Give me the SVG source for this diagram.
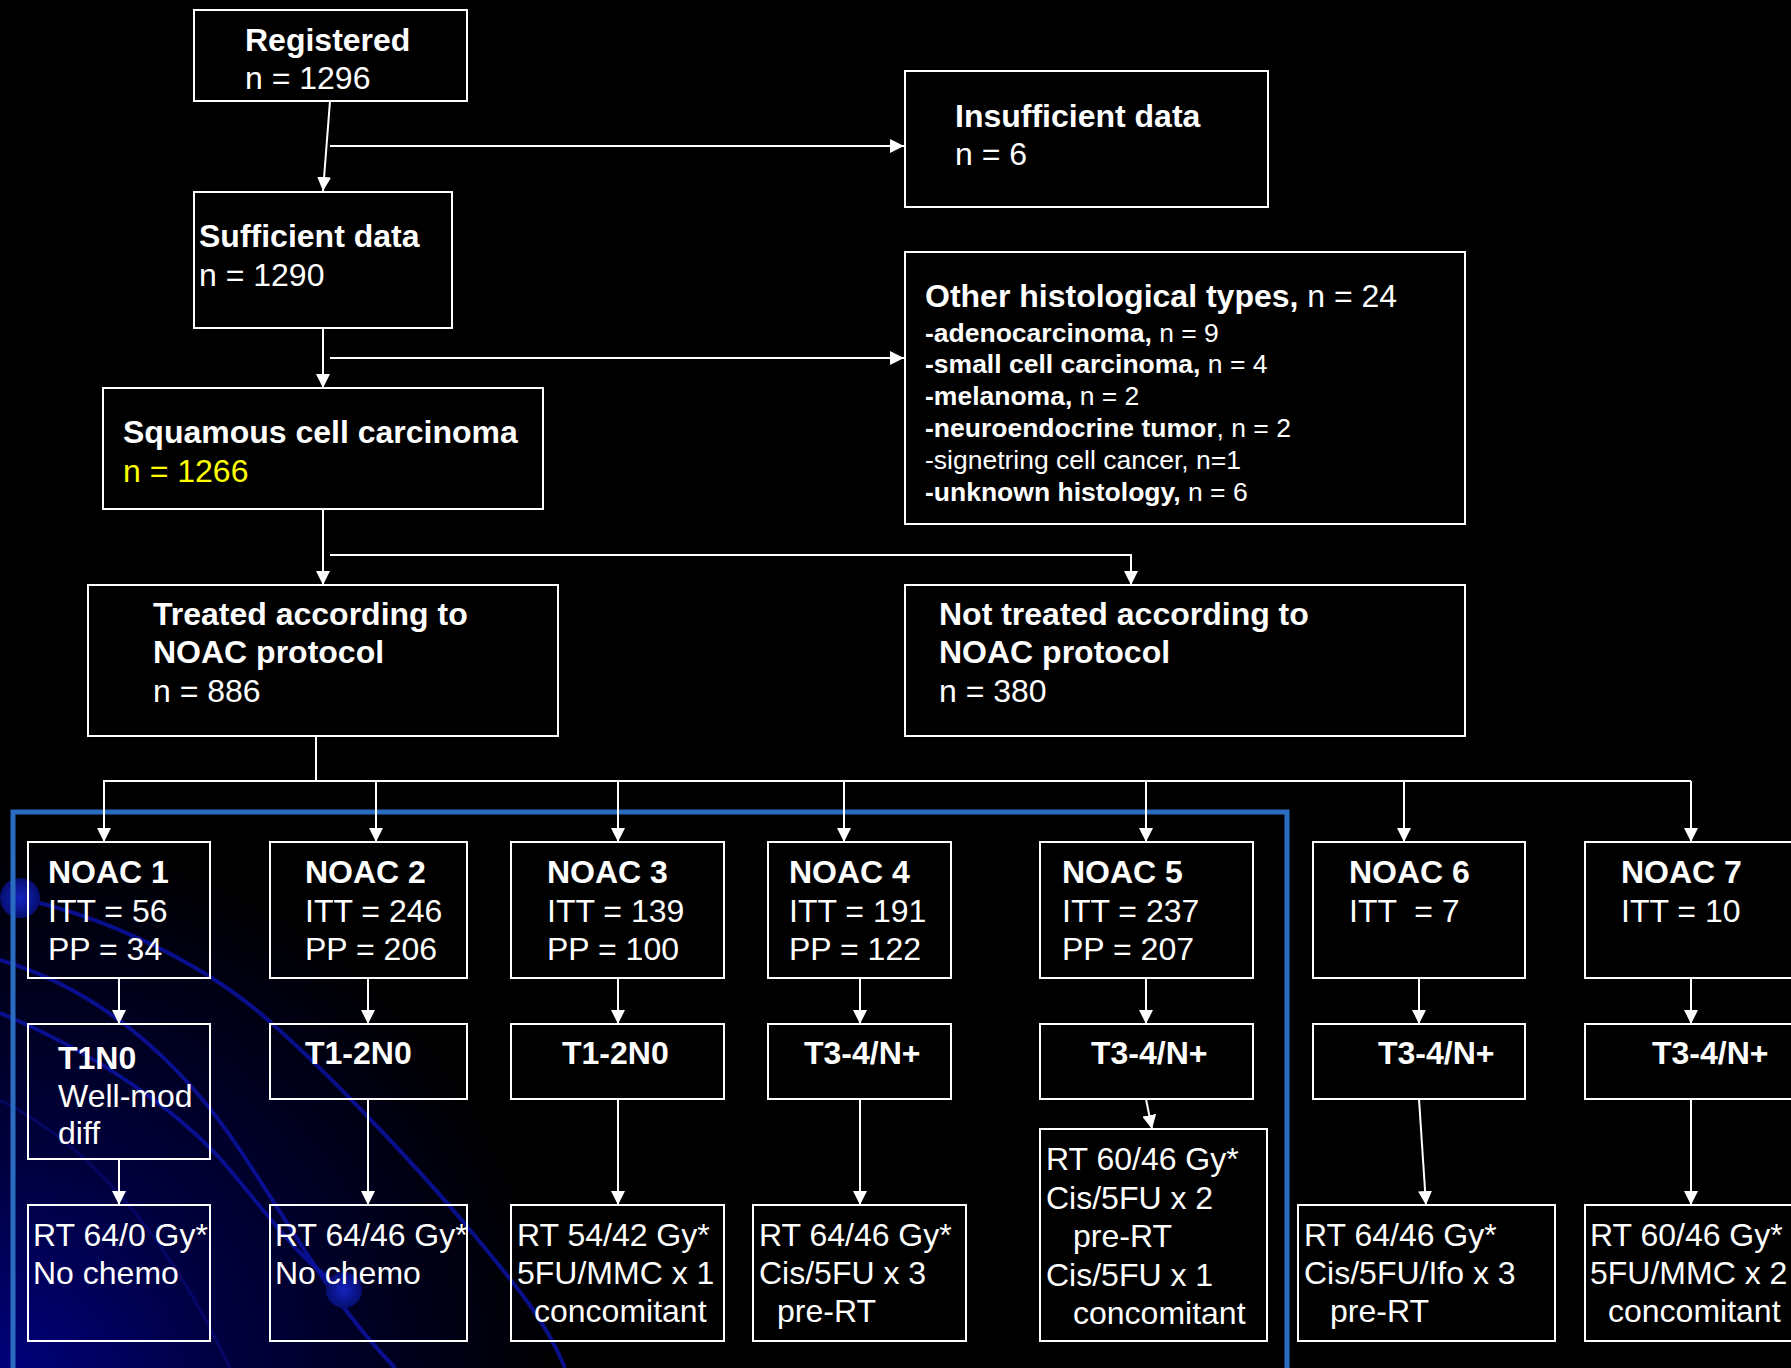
<svg xmlns="http://www.w3.org/2000/svg" width="1791" height="1368" viewBox="0 0 1791 1368">
<style>
.box{fill:none;stroke:#fff;stroke-width:2}
.t{font-family:"Liberation Sans",Arial,sans-serif;font-size:32px;fill:#fff}
.bd{font-weight:bold}
.s{font-size:26.5px}
.y{fill:#ffff00}
.c{fill:none;stroke:#fff;stroke-width:2}
.deco{fill:none;stroke:#0b12a0;stroke-width:4;opacity:0.85}
</style>
<defs>
<marker id="ah" viewBox="0 0 14 14" refX="14" refY="7" markerWidth="14" markerHeight="14" markerUnits="userSpaceOnUse" orient="auto">
<path d="M0,0 L14,7 L0,14 z" fill="#fff"/>
</marker>
<radialGradient id="bg" cx="0" cy="1390" r="560" gradientUnits="userSpaceOnUse">
<stop offset="0" stop-color="#000080"/>
<stop offset="0.4" stop-color="#000040"/>
<stop offset="1" stop-color="#000000"/>
</radialGradient>
<radialGradient id="dot">
<stop offset="0" stop-color="#1424c0"/>
<stop offset="1" stop-color="#060e70"/>
</radialGradient>
</defs>
<rect width="1791" height="1368" fill="#000"/>
<rect width="1791" height="1368" fill="url(#bg)"/>
<g id="decoration">
<path class="deco" d="M18,898 C100,915 200,960 268,1020 S420,1170 470,1230 S545,1320 565,1368"/>
<path class="deco" d="M0,960 C100,990 180,1060 240,1150 S330,1300 395,1368"/>
<path class="deco" d="M0,1013 C90,1050 180,1110 230,1170 S300,1260 345,1290"/>
<path class="deco" d="M0,1100 C80,1140 160,1220 230,1368" style="stroke-width:3;opacity:0.4"/>
<circle cx="20" cy="898" r="20" fill="url(#dot)"/>
<circle cx="344" cy="1290" r="18" fill="url(#dot)"/>
</g>
<path id="frame" d="M13,1372 L13,812 L1287,812 L1287,1372" fill="none" stroke="#2a6cbf" stroke-width="5"/>

<g id="connectors">
<line class="c" x1="330" y1="101" x2="323" y2="191" marker-end="url(#ah)"/>
<line class="c" x1="330" y1="146" x2="904" y2="146" marker-end="url(#ah)"/>
<line class="c" x1="323" y1="328" x2="323" y2="388" marker-end="url(#ah)"/>
<line class="c" x1="330" y1="358" x2="904" y2="358" marker-end="url(#ah)"/>
<line class="c" x1="323" y1="509" x2="323" y2="585" marker-end="url(#ah)"/>
<polyline class="c" points="330,555 1131,555 1131,585" marker-end="url(#ah)"/>
<line class="c" x1="316" y1="736" x2="316" y2="781"/>
<line class="c" x1="103" y1="781" x2="1691" y2="781"/>
<line class="c" x1="104" y1="781" x2="104" y2="842" marker-end="url(#ah)"/>
<line class="c" x1="376" y1="781" x2="376" y2="842" marker-end="url(#ah)"/>
<line class="c" x1="618" y1="781" x2="618" y2="842" marker-end="url(#ah)"/>
<line class="c" x1="844" y1="781" x2="844" y2="842" marker-end="url(#ah)"/>
<line class="c" x1="1146" y1="781" x2="1146" y2="842" marker-end="url(#ah)"/>
<line class="c" x1="1404" y1="781" x2="1404" y2="842" marker-end="url(#ah)"/>
<line class="c" x1="1691" y1="781" x2="1691" y2="842" marker-end="url(#ah)"/>
<line class="c" x1="119" y1="978" x2="119" y2="1024" marker-end="url(#ah)"/>
<line class="c" x1="119" y1="1159" x2="119" y2="1205" marker-end="url(#ah)"/>
<line class="c" x1="368" y1="978" x2="368" y2="1024" marker-end="url(#ah)"/>
<line class="c" x1="368" y1="1099" x2="368" y2="1205" marker-end="url(#ah)"/>
<line class="c" x1="618" y1="978" x2="618" y2="1024" marker-end="url(#ah)"/>
<line class="c" x1="618" y1="1099" x2="618" y2="1205" marker-end="url(#ah)"/>
<line class="c" x1="860" y1="978" x2="860" y2="1024" marker-end="url(#ah)"/>
<line class="c" x1="860" y1="1099" x2="860" y2="1205" marker-end="url(#ah)"/>
<line class="c" x1="1146" y1="978" x2="1146" y2="1024" marker-end="url(#ah)"/>
<line class="c" x1="1146" y1="1099" x2="1152" y2="1129" marker-end="url(#ah)"/>
<line class="c" x1="1419" y1="978" x2="1419" y2="1024" marker-end="url(#ah)"/>
<line class="c" x1="1419" y1="1099" x2="1426" y2="1205" marker-end="url(#ah)"/>
<line class="c" x1="1691" y1="978" x2="1691" y2="1024" marker-end="url(#ah)"/>
<line class="c" x1="1691" y1="1099" x2="1691" y2="1205" marker-end="url(#ah)"/>
</g>

<g id="registered">
<rect class="box" x="194" y="10" width="273" height="91"/>
<text class="t bd" x="245" y="51">Registered</text>
<text class="t" x="245" y="89">n = 1296</text>
</g>
<g id="insufficient">
<rect class="box" x="905" y="71" width="363" height="136"/>
<text class="t bd" x="955" y="127">Insufficient data</text>
<text class="t" x="955" y="165">n = 6</text>
</g>
<g id="sufficient">
<rect class="box" x="194" y="192" width="258" height="136"/>
<text class="t bd" x="199" y="247">Sufficient data</text>
<text class="t" x="199" y="286">n = 1290</text>
</g>
<g id="other">
<rect class="box" x="905" y="252" width="560" height="272"/>
<text class="t" x="925" y="307"><tspan class="bd">Other histological types,</tspan> n = 24</text>
<text class="t s" x="925" y="342"><tspan class="bd">-adenocarcinoma,</tspan> n = 9</text>
<text class="t s" x="925" y="373"><tspan class="bd">-small cell carcinoma,</tspan> n = 4</text>
<text class="t s" x="925" y="405"><tspan class="bd">-melanoma,</tspan> n = 2</text>
<text class="t s" x="925" y="437"><tspan class="bd">-neuroendocrine tumor</tspan>, n = 2</text>
<text class="t s" x="925" y="469">-signetring cell cancer, n=1</text>
<text class="t s" x="925" y="501"><tspan class="bd">-unknown histology,</tspan> n = 6</text>
</g>
<g id="squamous">
<rect class="box" x="103" y="388" width="440" height="121"/>
<text class="t bd" x="123" y="443">Squamous cell carcinoma</text>
<text class="t y" x="123" y="482">n = 1266</text>
</g>
<g id="treated">
<rect class="box" x="88" y="585" width="470" height="151"/>
<text class="t bd" x="153" y="625">Treated according to</text>
<text class="t bd" x="153" y="663">NOAC protocol</text>
<text class="t" x="153" y="702">n = 886</text>
</g>
<g id="not-treated">
<rect class="box" x="905" y="585" width="560" height="151"/>
<text class="t bd" x="939" y="625">Not treated according to</text>
<text class="t bd" x="939" y="663">NOAC protocol</text>
<text class="t" x="939" y="702">n = 380</text>
</g>

<g id="noac1">
<rect class="box" x="28" y="842" width="182" height="136"/>
<text class="t bd" x="48" y="883">NOAC 1</text>
<text class="t" x="48" y="922">ITT = 56</text>
<text class="t" x="48" y="960">PP = 34</text>
</g>
<g id="noac2">
<rect class="box" x="270" y="842" width="197" height="136"/>
<text class="t bd" x="305" y="883">NOAC 2</text>
<text class="t" x="305" y="922">ITT = 246</text>
<text class="t" x="305" y="960">PP = 206</text>
</g>
<g id="noac3">
<rect class="box" x="511" y="842" width="213" height="136"/>
<text class="t bd" x="547" y="883">NOAC 3</text>
<text class="t" x="547" y="922">ITT = 139</text>
<text class="t" x="547" y="960">PP = 100</text>
</g>
<g id="noac4">
<rect class="box" x="768" y="842" width="183" height="136"/>
<text class="t bd" x="789" y="883">NOAC 4</text>
<text class="t" x="789" y="922">ITT = 191</text>
<text class="t" x="789" y="960">PP = 122</text>
</g>
<g id="noac5">
<rect class="box" x="1040" y="842" width="213" height="136"/>
<text class="t bd" x="1062" y="883">NOAC 5</text>
<text class="t" x="1062" y="922">ITT = 237</text>
<text class="t" x="1062" y="960">PP = 207</text>
</g>
<g id="noac6">
<rect class="box" x="1313" y="842" width="212" height="136"/>
<text class="t bd" x="1349" y="883">NOAC 6</text>
<text class="t" x="1349" y="922" xml:space="preserve">ITT  = 7</text>
</g>
<g id="noac7">
<rect class="box" x="1585" y="842" width="212" height="136"/>
<text class="t bd" x="1621" y="883">NOAC 7</text>
<text class="t" x="1621" y="922">ITT = 10</text>
</g>

<g id="stage1">
<rect class="box" x="28" y="1024" width="182" height="135"/>
<text class="t bd" x="58" y="1069">T1N0</text>
<text class="t" x="58" y="1107">Well-mod</text>
<text class="t" x="58" y="1144">diff</text>
</g>
<g id="stage2">
<rect class="box" x="270" y="1024" width="197" height="75"/>
<text class="t bd" x="305" y="1064">T1-2N0</text>
</g>
<g id="stage3">
<rect class="box" x="511" y="1024" width="213" height="75"/>
<text class="t bd" x="562" y="1064">T1-2N0</text>
</g>
<g id="stage4">
<rect class="box" x="768" y="1024" width="183" height="75"/>
<text class="t bd" x="804" y="1064">T3-4/N+</text>
</g>
<g id="stage5">
<rect class="box" x="1040" y="1024" width="213" height="75"/>
<text class="t bd" x="1091" y="1064">T3-4/N+</text>
</g>
<g id="stage6">
<rect class="box" x="1313" y="1024" width="212" height="75"/>
<text class="t bd" x="1378" y="1064">T3-4/N+</text>
</g>
<g id="stage7">
<rect class="box" x="1585" y="1024" width="212" height="75"/>
<text class="t bd" x="1652" y="1064">T3-4/N+</text>
</g>

<g id="rt1">
<rect class="box" x="28" y="1205" width="182" height="136"/>
<text class="t" x="33" y="1246">RT 64/0 Gy*</text>
<text class="t" x="33" y="1284">No chemo</text>
</g>
<g id="rt2">
<rect class="box" x="270" y="1205" width="197" height="136"/>
<text class="t" x="275" y="1246">RT 64/46 Gy*</text>
<text class="t" x="275" y="1284">No chemo</text>
</g>
<g id="rt3">
<rect class="box" x="511" y="1205" width="213" height="136"/>
<text class="t" x="517" y="1246">RT 54/42 Gy*</text>
<text class="t" x="517" y="1284">5FU/MMC x 1</text>
<text class="t" x="534" y="1322">concomitant</text>
</g>
<g id="rt4">
<rect class="box" x="753" y="1205" width="213" height="136"/>
<text class="t" x="759" y="1246">RT 64/46 Gy*</text>
<text class="t" x="759" y="1284">Cis/5FU x 3</text>
<text class="t" x="777" y="1322">pre-RT</text>
</g>
<g id="rt5">
<rect class="box" x="1040" y="1129" width="227" height="212"/>
<text class="t" x="1046" y="1170">RT 60/46 Gy*</text>
<text class="t" x="1046" y="1209">Cis/5FU x 2</text>
<text class="t" x="1073" y="1247">pre-RT</text>
<text class="t" x="1046" y="1286">Cis/5FU x 1</text>
<text class="t" x="1073" y="1324">concomitant</text>
</g>
<g id="rt6">
<rect class="box" x="1298" y="1205" width="257" height="136"/>
<text class="t" x="1304" y="1246">RT 64/46 Gy*</text>
<text class="t" x="1304" y="1284">Cis/5FU/Ifo x 3</text>
<text class="t" x="1330" y="1322">pre-RT</text>
</g>
<g id="rt7">
<rect class="box" x="1585" y="1205" width="212" height="136"/>
<text class="t" x="1590" y="1246">RT 60/46 Gy*</text>
<text class="t" x="1590" y="1284">5FU/MMC x 2</text>
<text class="t" x="1608" y="1322">concomitant</text>
</g>
</svg>
